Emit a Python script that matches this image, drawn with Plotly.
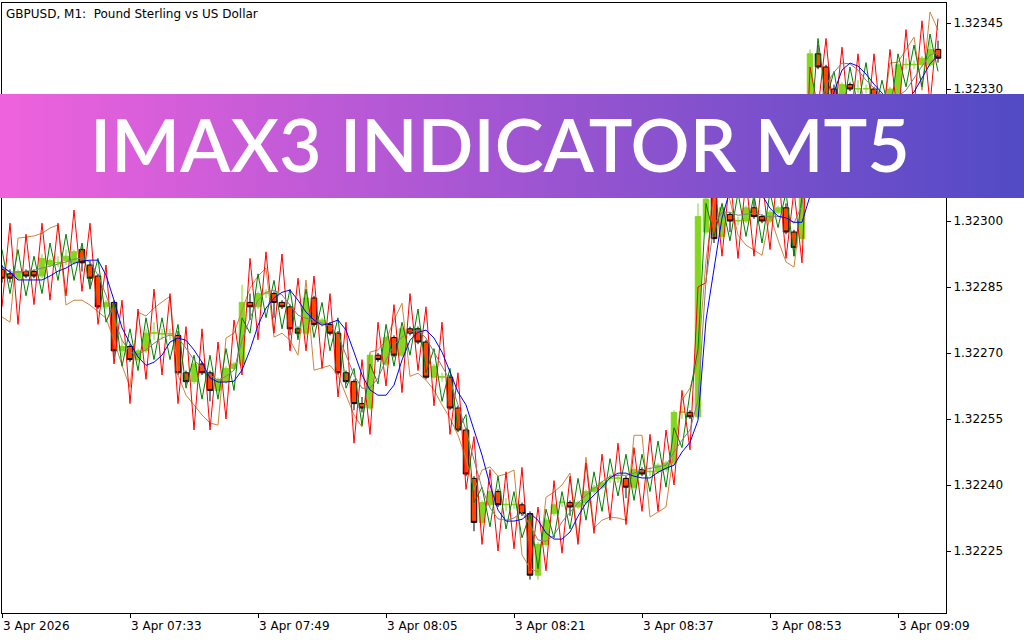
import base64
import plotly.graph_objects as go

BASE = 1.322  # prices below are in points (1e-5) above this base

bar_index = list(range(118))

open_pts = [89, 88, 87, 88.5, 88.5, 87.5, 90, 90.5, 91, 90.5, 93.5, 90, 87.5, 80.5, 81.5, 70.5, 71.5, 68.5, 70.5, 74.5,
            74.3, 74.3, 74, 65.5, 63.5, 67.5, 65.5, 61.5, 63.5, 66.5, 67.5, 81.5, 80.5, 83.5, 83.5, 81.5, 80.5, 75.5, 74.5, 82.5,
            76.5, 76.5, 74.5, 65.5, 63.5, 58.5, 57.5, 69.5, 67.5, 73.5, 69.5, 75.5, 75.5, 72.5, 64.5, 64.5, 64.5, 57.5, 52.5, 41.5,
            31.5, 35.5, 38.5, 35.5, 35.5, 35.5, 33.5, 19.5, 26.5, 33.5, 36, 36, 35, 36, 38.5, 39.5, 41.5, 41.5, 41.5, 39.5,
            43.5, 43, 43, 43.5, 45, 56.5, 56.5, 55.5, 97.5, 105.5, 96.5, 101.5, 100, 100, 103, 101, 100, 102, 103, 97.5,
            96, 110, 138, 135, 130, 127, 131, 130, 130, 130, 127.5, 127, 129, 135.5, 135.5, 135.5, 135.5, 139]
high_pts = [90, 89, 89, 89, 89, 92.5, 91.5, 92, 93.5, 93.5, 94, 91, 88, 82, 82, 73, 72, 71, 75.5, 77,
            75.5, 75.5, 75, 66, 68, 68, 66, 64.5, 67, 68, 85.5, 83.5, 84, 84.5, 84, 82, 81, 76, 83, 83,
            78, 77, 75, 66, 64, 60, 70, 70, 74, 74, 76, 76, 76, 73, 67.5, 65.5, 65, 58, 53, 42,
            36.5, 39, 39, 37, 36.5, 36, 34, 27, 32.5, 36, 37, 36.5, 36.5, 39, 40, 41, 42.5, 42.5, 42, 44,
            44, 44, 45, 45.5, 57, 58, 57, 104, 106, 107, 104, 102, 101, 103.5, 105, 101.5, 102.5, 103.5, 104, 98,
            111, 139, 140, 135.5, 131, 131.5, 131.5, 132, 131, 130.5, 128, 130.5, 136, 137, 136.5, 137.5, 141, 141]
low_pts = [86, 86, 86.5, 87, 87, 87, 89.5, 89.5, 90, 90, 88.5, 85, 80, 80, 69, 69, 68, 68, 70, 73,
           73, 73, 65, 63, 63, 65, 59, 61, 63, 66, 67, 77.5, 80, 82.5, 78, 80, 74, 74, 74, 76,
           76, 74, 65, 63, 57, 56.5, 57, 68, 67, 69, 69, 74, 72, 64, 64, 63.5, 57, 52, 42, 29.5,
           31, 35, 35, 34, 34.5, 33, 18.5, 18.5, 26, 33, 35, 33, 34.5, 35.5, 38, 39, 40.5, 40.5, 37, 39,
           42, 42, 42.5, 43, 44.5, 55, 55, 55, 97, 95, 96, 97.5, 99, 99.5, 100.5, 99.5, 99.5, 101.5, 97, 92,
           95, 109, 134.5, 127, 126, 126, 129.5, 129, 129, 127, 126, 126.5, 128.5, 134.5, 134.5, 135, 135, 136]
close_pts = [87, 87, 88.5, 87.5, 87.5, 91.5, 91, 90.6, 92, 93, 90.5, 87, 80.5, 81.5, 70.5, 71.5, 68.5, 70.5, 74.5, 74.6,
             74.4, 74.4, 65.5, 63.5, 67.5, 65.5, 61.5, 64, 66.5, 67.5, 81.5, 80.5, 83.5, 83.6, 81.5, 80.5, 75.5, 74.5, 82.5, 76.5,
             77.5, 74.5, 65.5, 63.5, 58.5, 57.5, 69.5, 68.5, 73.5, 69.5, 75.5, 74.5, 72.5, 64.5, 67, 64.6, 57.5, 52.5, 42.5, 31.5,
             36, 38.5, 35.5, 35.6, 35.6, 33.5, 19.5, 26.5, 32, 35.5, 36.1, 35, 36, 38.5, 39.5, 40.5, 41.6, 41.6, 39.5, 43.5,
             42.5, 43.1, 44.5, 45, 56.5, 56.6, 55.5, 101, 105, 96, 103, 100, 100.1, 103, 101, 100, 102, 103, 97.5, 94,
             110, 138, 135, 128, 127, 131, 130, 130.1, 130.1, 127.5, 126.5, 130, 135.5, 135.6, 135.6, 137, 139, 137]

red_pts = [80.5, 99.5, 76.5, 97, 81, 99.5, 82, 99.5, 83, 102.5, 84, 99.5, 76.5, 90, 67.5, 82, 58.5, 80, 64, 84.5,
           65, 83.5, 58.5, 76, 52.5, 75.5, 52.5, 72.5, 55, 77.5, 65, 91.5, 73, 93, 74.5, 92.5, 70.5, 87, 70.5, 87.5,
           66.5, 83.5, 60, 77, 49.5, 68.5, 51.5, 77, 62.5, 81, 61, 83.5, 66, 80.5, 58, 77, 51.5, 65.5, 39, 51,
           26.5, 43.5, 25, 43, 25.5, 44, 20.5, 35, 20.5, 41, 24.5, 42, 26.5, 45, 29, 47, 32, 49.5, 31, 48.5,
           34, 51.5, 34, 52.5, 40, 61.5, 48, 85, 86, 110.5, 92, 110.5, 91.5, 109.5, 92, 110, 93.5, 112.5, 91.5, 107,
           90.5, 135, 125.5, 141.5, 122, 139.5, 121, 138, 120, 138, 120, 139, 123, 143.5, 126, 145.5, 126.5, 146]
green_pts = [93.5, 83.5, 93.5, 83, 92, 83.5, 95, 86.5, 97, 86.5, 95, 84.5, 91.5, 77, 81.5, 67, 75.5, 66, 78, 68.5,
             78, 68.5, 76.5, 62, 69.5, 59.5, 69.5, 59.5, 71, 61.5, 78, 74.5, 88, 78, 86.5, 75.5, 84.5, 73, 84.5, 73.5,
             81.5, 70.5, 78, 62, 66.5, 53.5, 67.5, 63, 76.5, 67, 77, 69.5, 80, 65.5, 71, 59, 66.5, 52.5, 56, 36,
             39.5, 30.5, 42, 30, 38.5, 28, 33.5, 21, 34.5, 28, 38.5, 30, 41.5, 32, 43, 34, 46, 37.5, 47, 36.5,
             47, 38.5, 50, 39.5, 53, 48.5, 61, 71, 104, 96.5, 104, 95.5, 106.5, 96.5, 106, 95, 106.5, 98.5, 106.5, 92,
             105.5, 118, 141.5, 127.5, 134, 123.5, 135, 126, 136, 124, 132, 124, 138, 130.5, 140, 130.5, 142.5, 134]
gray_pts = [89.3, 88.4, 88.4, 88.6, 88.8, 89.3, 89.7, 90.2, 90.7, 91.3, 91.6, 90.7, 87.7, 83.2, 77.9, 72.9, 70.2, 69.7, 70.7, 72.2,
            73.4, 74.1, 73.4, 71.1, 68.4, 66.6, 65.0, 63.8, 64.7, 66.1, 72.9, 77.9, 82.0, 83.8, 84.3, 83.2, 80.9, 78.6, 77.9, 77.5,
            76.8, 76.1, 74.1, 69.5, 65.0, 62.0, 62.0, 64.3, 68.4, 71.8, 73.6, 74.7, 75.2, 73.4, 70.2, 67.2, 63.8, 58.2, 52.5, 45.7,
            39.3, 34.8, 32.3, 32.0, 32.5, 33.8, 30.9, 27.5, 27.2, 28.6, 31.6, 33.8, 35.9, 37.7, 39.3, 40.7, 42.0, 42.2, 42.2, 42.7,
            43.4, 43.8, 44.1, 44.5, 47.5, 50.2, 52.5, 59.3, 86.6, 99.1, 102.0, 102.0, 101.3, 101.6, 101.8, 101.3, 100.9, 101.1, 100.7, 99.5,
            103.6, 116.1, 125.2, 130.9, 133.8, 135.9, 135.7, 134.3, 132.0, 130.2, 128.6, 127.5, 128.4, 129.7, 132.5, 135.2, 137.7, 138.4]
blue_pts = [89.7, 88.4, 86.6, 86.6, 86.6, 86.6, 87.5, 88.6, 89.3, 90.4, 90.9, 91.1, 91.1, 87.7, 82.0, 75.7, 72.2, 69.1, 67.2, 67.9,
            69.5, 72.5, 73.4, 72.9, 70.7, 67.9, 64.3, 63.4, 63.4, 63.6, 66.1, 70.7, 76.3, 80.2, 82.5, 83.8, 84.3, 82.0, 79.3, 77.5,
            76.3, 76.8, 77.5, 75.2, 70.2, 65.0, 61.6, 60.4, 60.4, 62.7, 68.4, 72.9, 74.7, 75.2, 73.4, 70.2, 65.7, 61.1, 58.2, 52.5,
            46.8, 40.0, 34.3, 31.8, 31.8, 32.2, 33.6, 32.0, 29.1, 27.7, 27.7, 29.3, 32.9, 35.9, 37.7, 39.5, 41.6, 42.7, 42.7, 42.0,
            41.6, 41.6, 42.9, 43.8, 44.5, 47.5, 49.7, 54.7, 77.5, 88.8, 100.7, 107.0, 111.6, 112.7, 110.4, 105.9, 102.9, 101.1, 100.7, 99.7,
            99.7, 105.7, 112.7, 122.9, 129.3, 134.3, 135.9, 135.2, 133.4, 131.1, 129.1, 126.3, 125.7, 127.5, 129.3, 132.5, 135.7, 137.7]
peru_pts = [78.2, 77.0, 96.1, 96.3, 96.6, 97.2, 98.4, 99.1, 80.9, 82.0, 82.0, 80.9, 79.3, 77.9, 72.9, 67.2, 62.2, 79.3, 78.4, 80.2,
            81.6, 82.9, 65.0, 60.4, 58.2, 55.9, 54.1, 53.6, 73.4, 74.5, 79.7, 84.7, 87.5, 89.3, 73.6, 74.5, 72.9, 69.5, 86.6, 66.1,
            66.6, 67.2, 65.0, 60.4, 55.9, 53.2, 70.2, 70.7, 72.9, 77.5, 81.3, 64.7, 65.4, 63.8, 61.6, 58.2, 55.2, 51.3, 46.1, 38.8,
            43.4, 44.1, 42.0, 42.5, 43.4, 24.1, 21.1, 20.2, 37.2, 38.4, 40.0, 42.7, 27.5, 46.3, 30.2, 32.0, 32.7, 32.5, 32.0, 51.3,
            51.3, 32.7, 33.8, 35.0, 47.9, 59.3, 62.0, 68.4, 91.1, 104.7, 109.3, 104.7, 96.8, 94.5, 93.4, 92.2, 101.3, 95.7, 90.7, 89.5,
            104.7, 111.6, 120.7, 122.9, 125.2, 124.1, 121.8, 120.7, 122.9, 125.2, 122.9, 135.9, 136.1, 138.8, 141.8, 129.7, 147.5, 143.4]

tick_positions = [0, 16, 32, 48, 64, 80, 96, 112]
tick_labels = ["3 Apr 2026", "3 Apr 07:33", "3 Apr 07:49", "3 Apr 08:05",
               "3 Apr 08:21", "3 Apr 08:37", "3 Apr 08:53", "3 Apr 09:09"]
price_ticks = [1.32225, 1.32240, 1.32255, 1.32270, 1.32285, 1.32300, 1.32315, 1.32330, 1.32345]

title_text = "GBPUSD, M1:\u00a0 Pound Sterling vs US Dollar"
banner_text = "IMAX3 INDICATOR MT5"


def to_price(pts):
    return [round(BASE + p / 1e5, 6) for p in pts]


W, H = 1024, 640
L, R, T, B = 2, 78, 3, 27
PW, PH = W - L - R, H - T - B

fig = go.Figure()
fig.add_trace(go.Candlestick(
    x=bar_index, open=to_price(open_pts), high=to_price(high_pts),
    low=to_price(low_pts), close=to_price(close_pts),
    increasing=dict(line=dict(color="#84D61E", width=1), fillcolor="#84D61E"),
    decreasing=dict(line=dict(color="#000000", width=1), fillcolor="#FF4500"),
    whiskerwidth=0, showlegend=False, hoverinfo="skip"))

for pts, col in [(peru_pts, "#CD853F"), (red_pts, "#FF0000"), (green_pts, "#008000"),
                 (gray_pts, "#808080"), (blue_pts, "#0000FF")]:
    fig.add_trace(go.Scatter(x=bar_index, y=to_price(pts), mode="lines",
                             line=dict(color=col, width=1), showlegend=False, hoverinfo="skip"))

axis_font = dict(family="DejaVu Sans", size=12, color="#000000")

fig.update_layout(
    width=W, height=H, margin=dict(l=L, r=R, t=T, b=B, pad=0),
    paper_bgcolor="#FFFFFF", plot_bgcolor="#FFFFFF",
    boxgap=0.2, boxgroupgap=0.14,
    xaxis=dict(range=[0, 118], showgrid=False, zeroline=False, rangeslider=dict(visible=False),
               showline=True, linecolor="#000000", linewidth=1, mirror=True,
               tickmode="array", tickvals=tick_positions, ticks="outside", ticklen=4,
               tickcolor="#000000", tickwidth=1, showticklabels=False),
    yaxis=dict(range=[BASE + 10.909 / 1e5, BASE + 149.545 / 1e5], side="right", showgrid=False,
               zeroline=False, showline=True, linecolor="#000000", linewidth=1, mirror=True,
               tickmode="array", tickvals=price_ticks, ticktext=[f"{p:.5f}" for p in price_ticks],
               ticks="outside", ticklen=4, tickcolor="#000000", tickwidth=1, tickfont=axis_font),
)

for pos, lab in zip(tick_positions, tick_labels):
    fig.add_annotation(x=pos, y=0, xref="x", yref="paper", text=lab, showarrow=False,
                       xanchor="left", yanchor="top", yshift=-4, xshift=-1, font=axis_font)

fig.add_annotation(x=0, y=1, xref="paper", yref="paper", text=title_text, showarrow=False,
                   xanchor="left", yanchor="top", xshift=2, yshift=-2,
                   font=dict(family="DejaVu Sans", size=12, color="#000000"))

# banner
svg = ("<svg xmlns='http://www.w3.org/2000/svg' width='1024' height='104' viewBox='0 0 1024 104' "
       "preserveAspectRatio='none'><defs><linearGradient id='g' x1='0' x2='1' y1='0' y2='0'>"
       "<stop offset='0' stop-color='#EF62DD'/><stop offset='0.5' stop-color='#A155D2'/>"
       "<stop offset='1' stop-color='#524AC5'/></linearGradient></defs>"
       "<rect width='1024' height='104' fill='url(#g)'/></svg>")
src = "data:image/svg+xml;base64," + base64.b64encode(svg.encode()).decode()
b_top, b_bot = 94, 198
fig.add_layout_image(source=src, xref="paper", yref="paper",
                     x=-L / PW, y=(H - B - b_top) / PH, sizex=W / PW, sizey=(b_bot - b_top) / PH,
                     xanchor="left", yanchor="top", sizing="stretch", layer="above")
fig.add_annotation(x=(500 - L) / PW, y=(H - B - 143) / PH, xref="paper", yref="paper",
                   text=banner_text, showarrow=False, xanchor="center", yanchor="middle",
                   font=dict(family="Lato", size=73.5, color="#FFFFFF", weight=600))

fig.write_html("out.html", config={"displayModeBar": False},
               post_script="document.body.style.margin='0px';")
